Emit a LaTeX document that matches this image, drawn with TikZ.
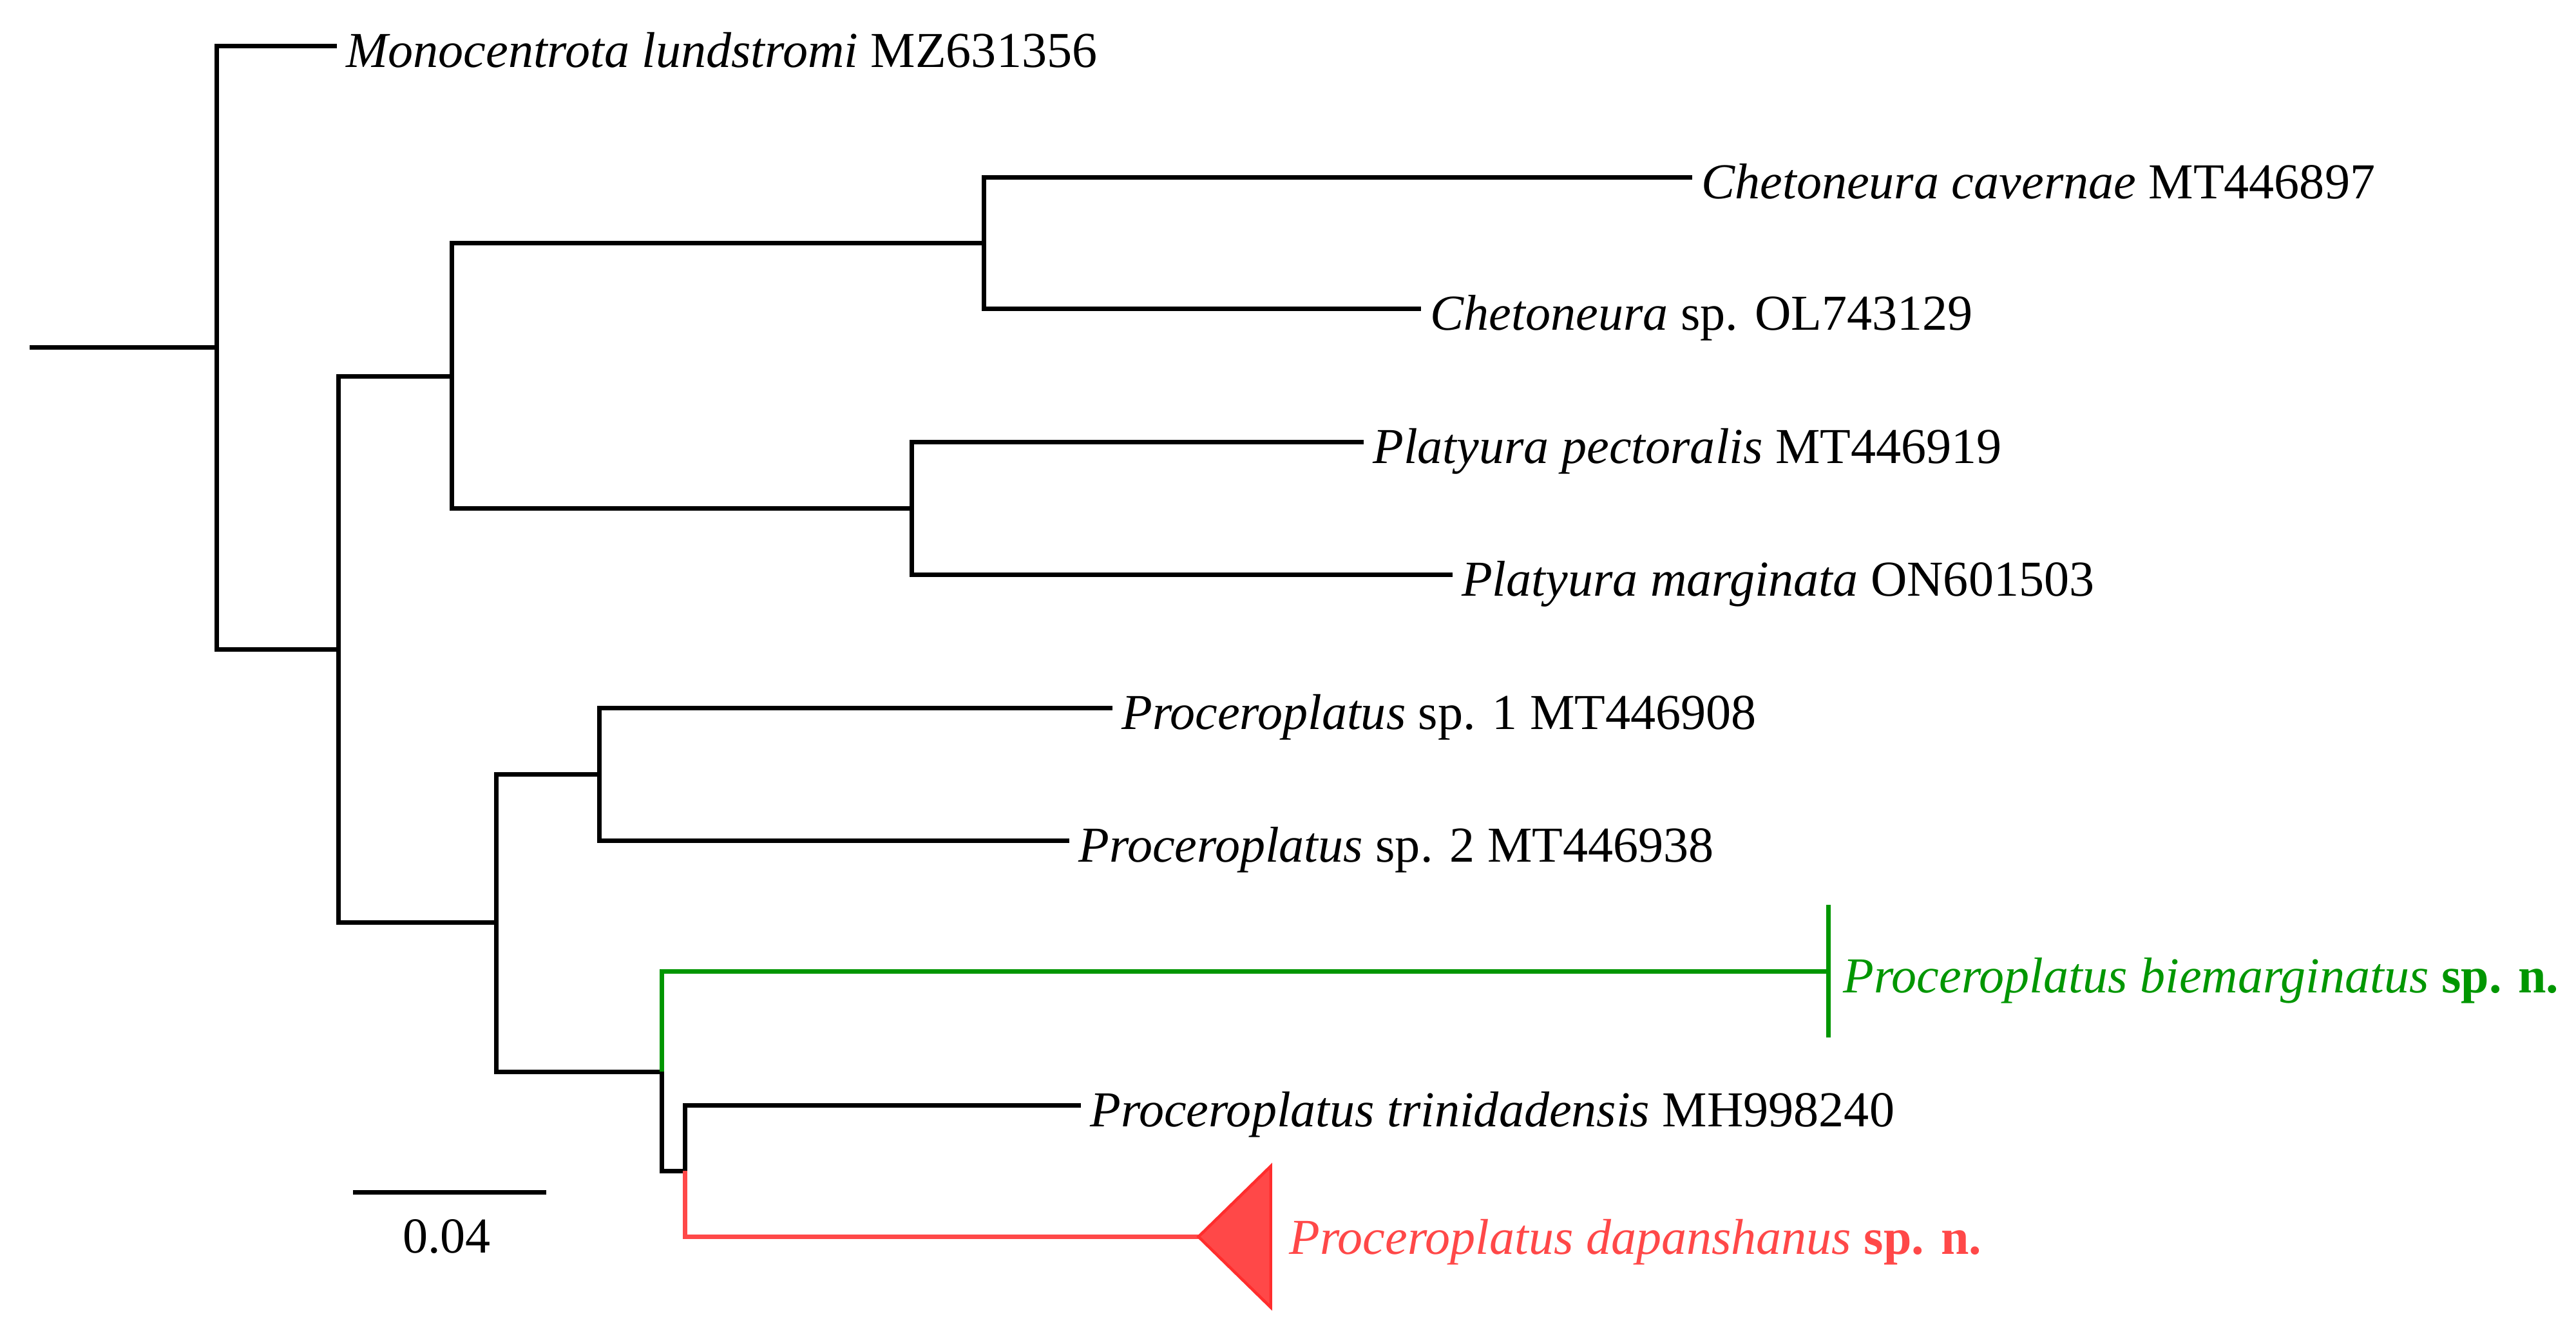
\documentclass[tikz,border=0pt]{standalone}
\usepackage{fontspec}
\setmainfont{Liberation Serif}
\definecolor{cladeGreen}{RGB}{0,150,0}
\definecolor{cladeRed}{RGB}{255,72,72}
\definecolor{cladeRedLine}{RGB}{255,45,45}
\begin{document}
\begin{tikzpicture}[x=0.4pt,y=0.4pt,yscale=-1,
  branch/.style={line width=1.1pt},
  taxon/.style={anchor=base west,inner sep=0pt,xshift=2.1pt,yshift=-5.2pt,font=\fontsize{12.25}{14}\selectfont}]

\useasboundingbox (0,0) rectangle (1568,812.8);

\coordinate (base) at (18,211.5);
\coordinate (n1) at (132,211.5);
\coordinate (n2) at (206,395.5);
\coordinate (n3) at (275,229);
\coordinate (n4) at (599,148);
\coordinate (n5) at (555,309.5);
\coordinate (n6) at (302,561.5);
\coordinate (n7) at (365,471.5);
\coordinate (n8) at (403,652.5);
\coordinate (n9) at (417,713);

\coordinate (tMon) at (205,28);
\coordinate (tCca) at (1030,108);
\coordinate (tCsp) at (865,188);
\coordinate (tPpe) at (830,269);
\coordinate (tPma) at (884,350);
\coordinate (tPs1) at (677,431);
\coordinate (tPs2) at (651,512);
\coordinate (tBie) at (1112.8,591.5);
\coordinate (tTri) at (658,673);
\coordinate (tDap) at (729.5,753);

\draw [branch] (base) -- (n1);
\draw [branch] (n1) |- (tMon);
\draw [branch] (n1) |- (n2);
\draw [branch] (n2) |- (n3);
\draw [branch] (n2) |- (n6);
\draw [branch] (n3) |- (n4);
\draw [branch] (n3) |- (n5);
\draw [branch] (n4) |- (tCca);
\draw [branch] (n4) |- (tCsp);
\draw [branch] (n5) |- (tPpe);
\draw [branch] (n5) |- (tPma);
\draw [branch] (n6) |- (n7);
\draw [branch] (n6) |- (n8);
\draw [branch] (n7) |- (tPs1);
\draw [branch] (n7) |- (tPs2);
\draw [branch,color=cladeGreen] (n8) |- (tBie);
\draw [branch] (n8) |- (n9);
\draw [branch] (n9) |- (tTri);
\draw [branch,color=cladeRed] (n9) |- (tDap);

\draw [branch,color=cladeGreen] ([yshift=16pt]tBie) coordinate (bieTop) -- ([yshift=-16.2pt]tBie) coordinate (bieBot);
\filldraw [fill=cladeRed,draw=cladeRedLine,line width=0.7pt,line join=miter] (tDap) -- (773.5,710) -- (773.5,796) -- cycle;
\coordinate (dapBack) at (773.5,753);

\node [taxon] (lMon) at (tMon) {\textit{Monocentrota lundstromi} MZ631356};
\node [taxon] (lCca) at (tCca) {\textit{Chetoneura cavernae} MT446897};
\node [taxon] (lCsp) at (tCsp) {\textit{Chetoneura} sp. OL743129};
\node [taxon] (lPpe) at (tPpe) {\textit{Platyura pectoralis} MT446919};
\node [taxon] (lPma) at (tPma) {\textit{Platyura marginata} ON601503};
\node [taxon] (lPs1) at (tPs1) {\textit{Proceroplatus} sp. 1 MT446908};
\node [taxon] (lPs2) at (tPs2) {\textit{Proceroplatus} sp. 2 MT446938};
\node [taxon,text=cladeGreen,xshift=1.4pt] (lBie) at (tBie) {\textit{Proceroplatus biemarginatus} \textbf{sp. n.}};
\node [taxon] (lTri) at (tTri) {\textit{Proceroplatus trinidadensis} MH998240};
\node [taxon,text=cladeRed,xshift=2.2pt,yshift=1pt] (lDap) at (dapBack) {\textit{Proceroplatus dapanshanus} \textbf{sp. n.}};

\coordinate (barL) at (215,726);
\coordinate (barR) at (332.6,726);
\draw [branch] (barL) -- (barR);
\node [anchor=base,inner sep=0pt,font=\fontsize{12.25}{14}\selectfont] (barLabel) at (272,763) {0.04};

\end{tikzpicture}
\end{document}
